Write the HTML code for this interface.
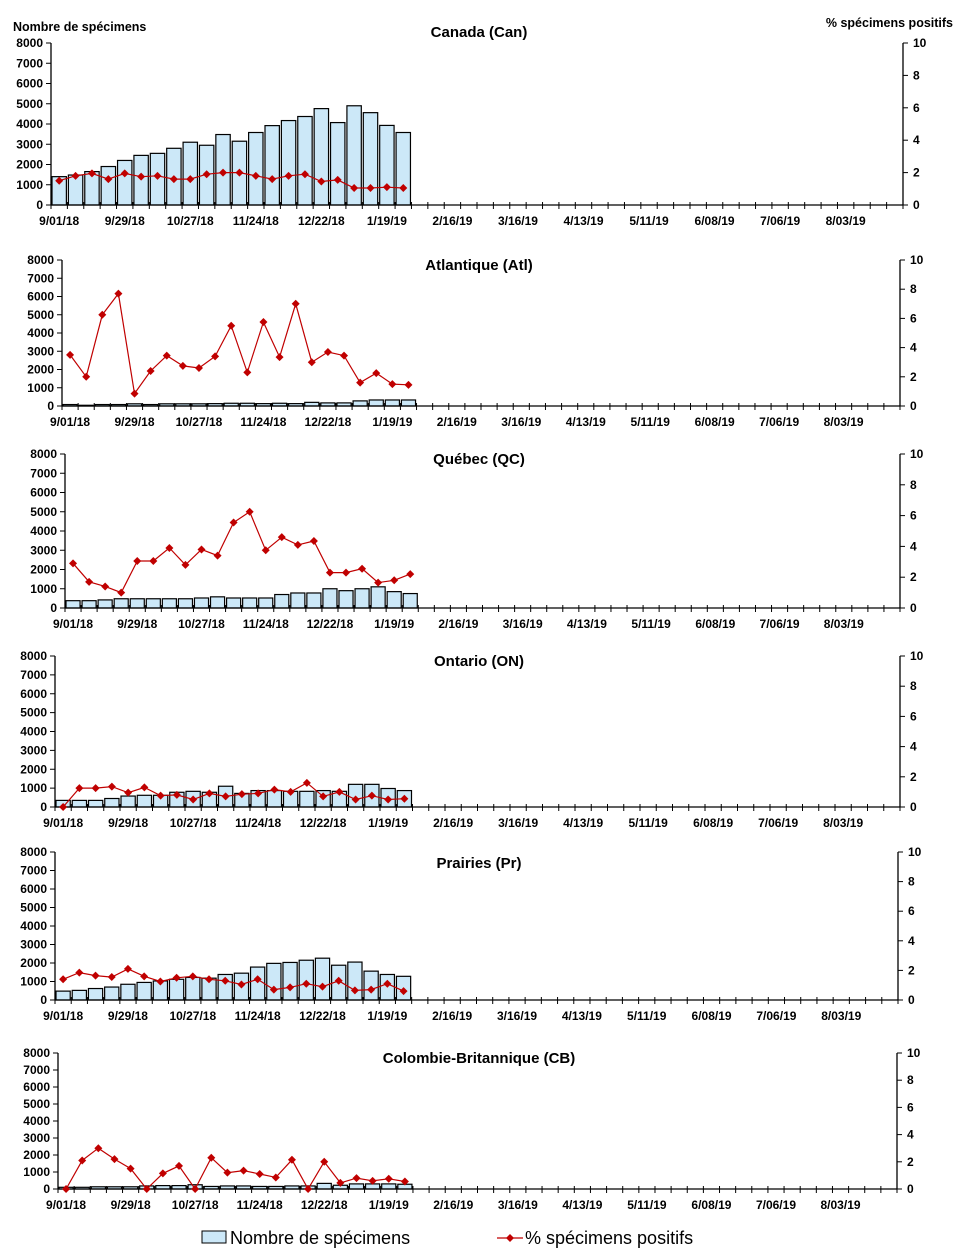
<!DOCTYPE html>
<html><head><meta charset="utf-8"><style>
body{margin:0;background:#fff;}
svg{display:block;font-family:"Liberation Sans",Arial,sans-serif;}
</style></head><body>
<svg id="chart" width="959" height="1260" viewBox="0 0 959 1260" xmlns="http://www.w3.org/2000/svg">
<text x="13" y="31" font-size="12.5" font-weight="bold">Nombre de spécimens</text>
<text x="953" y="27" font-size="12.5" font-weight="bold" text-anchor="end">% spécimens positifs</text>
<g>
<rect x="202" y="1231" width="24" height="12" fill="#cce8f8" stroke="#000" stroke-width="1"/>
<text x="230" y="1244" font-size="18">Nombre de spécimens</text>
<line x1="497" y1="1238" x2="523" y2="1238" stroke="#c00000" stroke-width="1.2"/>
<path d="M510 1234 L514 1238 L510 1242 L506 1238 Z" fill="#c00000"/>
<text x="525" y="1244" font-size="18">% spécimens positifs</text>
</g>
</svg>
<script>
const tickLabels = ["9/01/18","9/29/18","10/27/18","11/24/18","12/22/18","1/19/19","2/16/19","3/16/19","4/13/19","5/11/19","6/08/19","7/06/19","8/03/19"];
const leftTicks = [0,1000,2000,3000,4000,5000,6000,7000,8000];
const rightTicks = [0,2,4,6,8,10];
const canCounts = [1400,1480,1650,1900,2200,2450,2550,2800,3100,2950,3480,3150,3580,3920,4170,4370,4760,4070,4900,4560,3930,3580];
const canPct = [1.5,1.8,1.95,1.6,1.95,1.75,1.8,1.6,1.6,1.9,2.0,2.0,1.8,1.6,1.8,1.9,1.45,1.55,1.05,1.05,1.1,1.05];
const atlCounts = [80,40,80,80,120,80,120,120,120,130,150,150,130,150,130,200,170,170,280,330,330,330];
const atlPct = [3.5,2.0,6.25,7.7,0.85,2.4,3.45,2.75,2.6,3.4,5.5,2.3,5.75,3.35,7.0,3.0,3.7,3.45,1.6,2.25,1.5,1.45];
const qcCounts = [380,380,420,480,480,480,480,480,520,580,520,520,520,700,780,780,1000,900,1000,1100,850,750];
const qcPct = [2.9,1.7,1.4,1.0,3.05,3.05,3.9,2.8,3.8,3.4,5.55,6.25,3.75,4.6,4.1,4.35,2.3,2.3,2.55,1.65,1.8,2.2];
const onCounts = [350,350,350,450,580,620,620,780,830,780,1100,720,870,870,830,830,870,830,1200,1200,980,870];
const onPct = [0,1.25,1.25,1.35,0.95,1.3,0.75,0.8,0.5,0.9,0.7,0.85,0.9,1.15,1.0,1.6,0.7,1.0,0.5,0.75,0.5,0.55];
const prCounts = [480,520,620,700,850,950,1030,1120,1220,1180,1380,1450,1780,1980,2030,2150,2260,1880,2050,1560,1380,1280];
const prPct = [1.4,1.85,1.65,1.55,2.1,1.6,1.25,1.5,1.6,1.4,1.3,1.05,1.4,0.7,0.85,1.1,0.9,1.3,0.65,0.7,1.1,0.6];
const cbCounts = [100,100,130,130,130,180,200,200,250,150,180,180,150,150,180,180,330,220,300,300,300,280];
const cbPct = [0,2.1,3.0,2.2,1.5,0,1.15,1.7,0,2.3,1.2,1.35,1.1,0.85,2.15,0,2.0,0.45,0.8,0.6,0.75,0.55];

const panels = [
 {name:"canada",title:"Canada (Can)",counts:canCounts,pct:canPct,L:51,R:903,top:43,bot:205,ty:37},
 {name:"atlantique",title:"Atlantique (Atl)",counts:atlCounts,pct:atlPct,L:62,R:900,top:260,bot:406,ty:270},
 {name:"quebec",title:"Québec (QC)",counts:qcCounts,pct:qcPct,L:65,R:900,top:454,bot:608,ty:464},
 {name:"ontario",title:"Ontario (ON)",counts:onCounts,pct:onPct,L:55,R:900,top:656,bot:807,ty:666},
 {name:"prairies",title:"Prairies (Pr)",counts:prCounts,pct:prPct,L:55,R:898,top:852,bot:1000,ty:868},
 {name:"colombie-britannique",title:"Colombie-Britannique (CB)",counts:cbCounts,pct:cbPct,L:58,R:897,top:1053,bot:1189,ty:1063}
];
const NS="http://www.w3.org/2000/svg";
const svg=document.getElementById('chart');
function mk(tag,attrs,parent){const e=document.createElementNS(NS,tag);for(const k in attrs)e.setAttribute(k,attrs[k]);parent.appendChild(e);return e;}
const WEEKS=52;
panels.forEach(p=>{
  const g=mk('g',{},svg);
  
  
  const w=(p.R-p.L)/WEEKS;
  const x=i=>p.L+i*w;
  const yL=v=>p.bot-(v/8000)*(p.bot-p.top);
  const yR=v=>p.bot-(v/10)*(p.bot-p.top);
  const t=mk('text',{x:479,y:p.ty,'font-size':15,'font-weight':'bold','text-anchor':'middle'},g);
  t.textContent=p.title;
  
  
  p.counts.forEach((v,i)=>{
    const r=mk('rect',{x:x(i)+1,y:yL(v),width:w-2,height:p.bot-yL(v),fill:'#cce8f8',stroke:'#000','stroke-width':1.2},g);
    
    
  });
  // axes
  mk('line',{x1:p.L,y1:p.top,x2:p.L,y2:p.bot,stroke:'#000','stroke-width':1.3},g);
  mk('line',{x1:p.R,y1:p.top,x2:p.R,y2:p.bot,stroke:'#000','stroke-width':1.3},g);
  mk('line',{x1:p.L,y1:p.bot,x2:p.R,y2:p.bot,stroke:'#000','stroke-width':1.3},g);
  leftTicks.forEach(v=>{
    mk('line',{x1:p.L-5,y1:yL(v),x2:p.L,y2:yL(v),stroke:'#000'},g);
    const tx=mk('text',{x:p.L-8,y:yL(v)+4,'font-size':12,'font-weight':'bold','text-anchor':'end'},g);
    tx.textContent=v;
    
    
  });
  rightTicks.forEach(v=>{
    mk('line',{x1:p.R,y1:yR(v),x2:p.R+5,y2:yR(v),stroke:'#000'},g);
    const tx=mk('text',{x:p.R+10,y:yR(v)+4,'font-size':12,'font-weight':'bold'},g);
    tx.textContent=v;
    
    
  });
  for(let i=0;i<=WEEKS;i++) mk('line',{x1:x(i),y1:p.bot-3,x2:x(i),y2:p.bot+4,stroke:'#000'},g);
  tickLabels.forEach((lab,k)=>{
    const tx=mk('text',{x:x(k*4)+w/2,y:p.bot+20,'font-size':12,'font-weight':'bold','text-anchor':'middle'},g);
    tx.textContent=lab;
    
    
  });
  const pts=p.pct.map((v,i)=>(x(i)+w/2).toFixed(1)+','+yR(v).toFixed(1)).join(' ');
  const pl=mk('polyline',{points:pts,fill:'none',stroke:'#c00000','stroke-width':1.2},g);
  
  
  p.pct.forEach((v,i)=>{
    const cx=x(i)+w/2,cy=yR(v);
    const d=mk('path',{d:`M${cx} ${cy-4} L${cx+4} ${cy} L${cx} ${cy+4} L${cx-4} ${cy} Z`,fill:'#c00000'},g);
    
    
  });
});
</script>
</body></html>
